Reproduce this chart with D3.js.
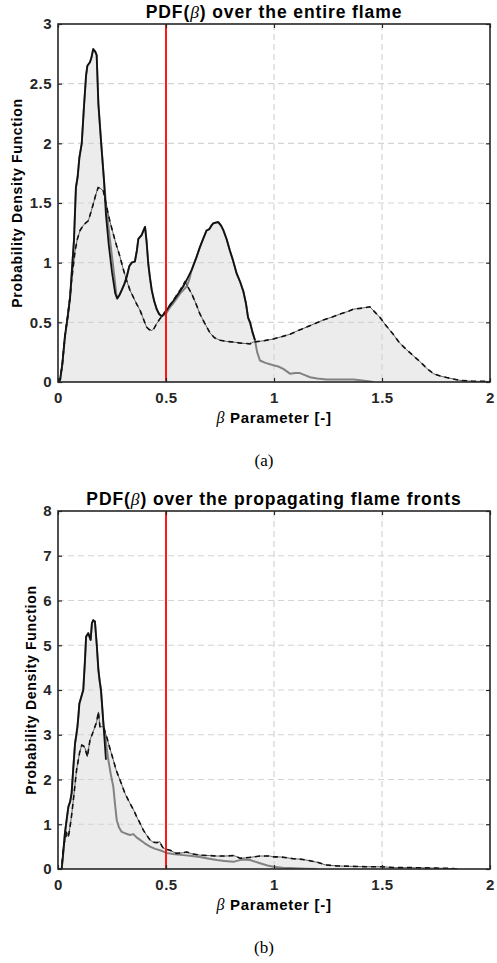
<!DOCTYPE html>
<html>
<head>
<meta charset="utf-8">
<script src="https://cdn.jsdelivr.net/npm/d3@7/dist/d3.min.js"></script>
<style>
  html, body { margin: 0; padding: 0; background: #fff; }
  svg { display: block; }
</style>
</head>
<body>
<div id="chart"></div>
<script>
// ---------------- DATA ----------------
const xTicks = [0, 0.5, 1, 1.5, 2];
const xTickLabels = ["0", "0.5", "1", "1.5", "2"];
const topYTicks = [0, 0.5, 1, 1.5, 2, 2.5, 3];
const topYTickLabels = ["0", "0.5", "1", "1.5", "2", "2.5", "3"];
const botYTicks = [0, 1, 2, 3, 4, 5, 6, 7, 8];
const botYTickLabels = ["0", "1", "2", "3", "4", "5", "6", "7", "8"];
const thresholdBeta = 0.5;

const titles = ["over the entire flame", "over the propagating flame fronts"];
const panelLabels = ["(a)", "(b)"];

// Panel (a): [beta, pdf]
const topSolid = [[0,0],[0.01,0.02],[0.02,0.15],[0.032,0.38],[0.045,0.55],[0.056,0.71],[0.065,0.95],[0.074,1.19],[0.083,1.63],[0.091,1.72],[0.099,1.88],[0.11,2.0],[0.12,2.3],[0.13,2.57],[0.136,2.65],[0.148,2.68],[0.155,2.72],[0.163,2.79],[0.172,2.77],[0.179,2.74],[0.187,2.33],[0.2,2.0],[0.213,1.69],[0.222,1.4],[0.235,1.15],[0.25,0.92],[0.265,0.74],[0.275,0.70],[0.285,0.73],[0.295,0.77],[0.307,0.82],[0.318,0.88],[0.33,0.97],[0.341,1.0],[0.356,1.01],[0.365,1.1],[0.372,1.2],[0.387,1.23],[0.396,1.27],[0.403,1.3],[0.41,1.18],[0.418,0.99],[0.426,0.87],[0.434,0.77],[0.445,0.68],[0.457,0.61],[0.468,0.57],[0.48,0.55],[0.49,0.57],[0.503,0.6],[0.52,0.65],[0.534,0.68],[0.55,0.72],[0.565,0.76],[0.58,0.8],[0.6,0.87],[0.619,0.94],[0.64,1.04],[0.657,1.13],[0.672,1.2],[0.688,1.27],[0.7,1.28],[0.71,1.31],[0.719,1.33],[0.73,1.335],[0.742,1.34],[0.755,1.31],[0.766,1.27],[0.78,1.2],[0.796,1.1],[0.81,1.02],[0.827,0.91],[0.843,0.84],[0.858,0.76],[0.87,0.66],[0.88,0.54],[0.889,0.5],[0.9,0.42],[0.912,0.35]];

const topGray = [[0,0],[0.01,0.02],[0.02,0.15],[0.032,0.38],[0.045,0.55],[0.056,0.71],[0.065,0.95],[0.074,1.19],[0.083,1.63],[0.091,1.72],[0.099,1.88],[0.11,2.0],[0.12,2.3],[0.13,2.57],[0.136,2.65],[0.148,2.68],[0.155,2.72],[0.163,2.79],[0.172,2.77],[0.179,2.74],[0.187,2.33],[0.2,2.0],[0.213,1.69],[0.222,1.5],[0.235,1.28],[0.25,1.05],[0.26,0.9],[0.272,0.70],[0.285,0.73],[0.295,0.77],[0.307,0.82],[0.318,0.88],[0.33,0.97],[0.341,1.0],[0.356,1.01],[0.365,1.1],[0.372,1.2],[0.387,1.23],[0.396,1.27],[0.403,1.3],[0.41,1.18],[0.418,0.99],[0.426,0.87],[0.434,0.77],[0.445,0.68],[0.457,0.61],[0.468,0.57],[0.48,0.55],[0.49,0.56],[0.503,0.58],[0.52,0.63],[0.534,0.66],[0.55,0.7],[0.565,0.74],[0.58,0.77],[0.596,0.8],[0.608,0.86],[0.619,0.94],[0.64,1.04],[0.657,1.13],[0.672,1.2],[0.688,1.27],[0.7,1.28],[0.71,1.31],[0.719,1.33],[0.73,1.335],[0.742,1.34],[0.755,1.31],[0.766,1.27],[0.78,1.2],[0.796,1.1],[0.81,1.02],[0.827,0.91],[0.843,0.84],[0.858,0.76],[0.87,0.66],[0.88,0.54],[0.889,0.5],[0.9,0.42],[0.912,0.35],[0.922,0.25],[0.935,0.18],[0.96,0.16],[0.997,0.14],[1.02,0.13],[1.043,0.11],[1.074,0.07],[1.1,0.075],[1.12,0.075],[1.14,0.06],[1.167,0.04],[1.2,0.03],[1.244,0.02],[1.3,0.02],[1.367,0.02],[1.4,0.015],[1.444,0.005],[1.46,0]];

const topDashed = [[0,0],[0.01,0.02],[0.02,0.15],[0.032,0.38],[0.045,0.55],[0.056,0.72],[0.063,0.85],[0.079,1.1],[0.09,1.2],[0.102,1.27],[0.12,1.32],[0.14,1.35],[0.152,1.42],[0.163,1.49],[0.175,1.57],[0.186,1.63],[0.198,1.62],[0.21,1.6],[0.225,1.47],[0.24,1.35],[0.256,1.24],[0.27,1.15],[0.287,1.05],[0.3,0.96],[0.318,0.85],[0.333,0.77],[0.349,0.71],[0.365,0.65],[0.38,0.6],[0.395,0.53],[0.41,0.46],[0.422,0.44],[0.434,0.43],[0.445,0.45],[0.457,0.49],[0.472,0.53],[0.488,0.57],[0.51,0.62],[0.534,0.68],[0.55,0.73],[0.565,0.77],[0.578,0.81],[0.588,0.84],[0.6,0.8],[0.619,0.74],[0.64,0.65],[0.657,0.57],[0.68,0.49],[0.704,0.41],[0.725,0.37],[0.75,0.35],[0.78,0.34],[0.81,0.335],[0.85,0.325],[0.889,0.32],[0.904,0.335],[0.95,0.345],[0.997,0.36],[1.035,0.38],[1.074,0.4],[1.11,0.43],[1.151,0.46],[1.19,0.49],[1.228,0.52],[1.27,0.545],[1.306,0.57],[1.34,0.59],[1.367,0.61],[1.41,0.62],[1.444,0.63],[1.465,0.59],[1.491,0.54],[1.52,0.47],[1.552,0.4],[1.58,0.33],[1.614,0.27],[1.645,0.22],[1.676,0.17],[1.71,0.11],[1.738,0.07],[1.77,0.05],[1.8,0.037],[1.86,0.014],[1.92,0.006],[2.0,0.005]];

// Panel (b): [beta, pdf]
const botSolid = [[0,0],[0.017,0],[0.025,0.4],[0.032,0.8],[0.04,1.1],[0.048,1.39],[0.056,1.5],[0.063,1.69],[0.07,2.2],[0.079,2.81],[0.085,3.0],[0.09,3.18],[0.095,3.45],[0.099,3.7],[0.108,3.85],[0.117,4.0],[0.125,4.67],[0.13,5.19],[0.14,5.27],[0.151,5.12],[0.157,5.49],[0.163,5.56],[0.171,5.53],[0.179,5.04],[0.187,4.45],[0.193,4.2],[0.199,4.0],[0.205,3.6],[0.21,3.26],[0.216,2.85],[0.222,2.44]];

const botGray = [[0,0],[0.017,0],[0.025,0.4],[0.032,0.8],[0.04,1.1],[0.048,1.39],[0.056,1.5],[0.063,1.69],[0.07,2.2],[0.079,2.81],[0.085,3.0],[0.09,3.18],[0.095,3.45],[0.099,3.7],[0.108,3.85],[0.117,4.0],[0.125,4.67],[0.13,5.19],[0.14,5.27],[0.151,5.12],[0.157,5.49],[0.163,5.56],[0.171,5.53],[0.179,5.04],[0.187,4.45],[0.193,4.2],[0.199,4.0],[0.205,3.6],[0.21,3.26],[0.22,2.9],[0.233,2.44],[0.245,2.1],[0.256,1.84],[0.265,1.4],[0.272,1.09],[0.283,0.92],[0.295,0.83],[0.31,0.8],[0.333,0.76],[0.349,0.78],[0.365,0.7],[0.38,0.65],[0.4,0.58],[0.426,0.5],[0.45,0.45],[0.472,0.42],[0.503,0.36],[0.54,0.33],[0.58,0.31],[0.62,0.29],[0.657,0.27],[0.7,0.23],[0.735,0.2],[0.77,0.18],[0.812,0.16],[0.85,0.21],[0.889,0.2],[0.935,0.13],[0.97,0.08],[0.997,0.05],[1.04,0.03],[1.074,0.02],[1.15,0.005],[1.2,0]];

const botDashed = [[0,0],[0.017,0],[0.025,0.5],[0.04,0.8],[0.048,0.72],[0.056,0.95],[0.063,1.2],[0.071,1.54],[0.086,2.21],[0.1,2.6],[0.11,2.77],[0.118,2.75],[0.125,2.7],[0.136,2.51],[0.148,2.88],[0.163,3.07],[0.179,3.29],[0.187,3.51],[0.194,3.18],[0.21,3.18],[0.225,2.96],[0.24,2.7],[0.256,2.44],[0.27,2.2],[0.287,1.99],[0.31,1.69],[0.333,1.47],[0.35,1.32],[0.364,1.17],[0.38,1.02],[0.395,0.87],[0.41,0.76],[0.426,0.65],[0.44,0.6],[0.457,0.59],[0.472,0.61],[0.48,0.52],[0.488,0.46],[0.503,0.44],[0.519,0.42],[0.535,0.38],[0.549,0.35],[0.575,0.36],[0.596,0.38],[0.62,0.34],[0.657,0.31],[0.7,0.3],[0.735,0.29],[0.775,0.29],[0.812,0.3],[0.825,0.28],[0.843,0.24],[0.87,0.25],[0.889,0.26],[0.935,0.29],[0.98,0.29],[1.0,0.27],[1.03,0.27],[1.06,0.25],[1.09,0.23],[1.12,0.22],[1.15,0.2],[1.2,0.15],[1.24,0.09],[1.29,0.07],[1.35,0.06],[1.43,0.05],[1.5,0.05],[1.56,0.03],[1.65,0.03],[1.75,0.02],[1.83,0.01],[1.85,0]];

// ---------------- DRAW ----------------
const W = 497, H = 963;
const svg = d3.select("#chart").append("svg")
  .attr("width", W).attr("height", H)
  .attr("viewBox", `0 0 ${W} ${H}`);
svg.append("rect").attr("width", W).attr("height", H).attr("fill", "#fff");

const AX = "#262626";
const FONT = "'Liberation Sans', Arial, Helvetica, sans-serif";
const SERIF = "'Liberation Serif', 'Times New Roman', serif";

const panels = [
  { top: 24, bottom: 382, yMax: 3, yTicks: topYTicks, yLabels: topYTickLabels,
    solid: topSolid, gray: topGray, dashed: topDashed, title: titles[0],
    label: panelLabels[0], ylabX: 22, tag: 466 },
  { top: 511, bottom: 869, yMax: 8, yTicks: botYTicks, yLabels: botYTickLabels,
    solid: botSolid, gray: botGray, dashed: botDashed, title: titles[1],
    label: panelLabels[1], ylabX: 35.5, tag: 953 }
];

panels.forEach((p, i) => {
  const left = 58, right = 490;
  const x = d3.scaleLinear().domain([0, 2]).range([left, right]);
  const y = d3.scaleLinear().domain([0, p.yMax]).range([p.bottom, p.top]);
  const g = svg.append("g");

  const clipId = "clip" + i;
  svg.append("clipPath").attr("id", clipId).append("rect")
    .attr("x", left).attr("y", p.top).attr("width", right - left).attr("height", p.bottom - p.top);

  const plot = g.append("g").attr("clip-path", `url(#${clipId})`);

  // areas (union of fills)
  const area = d3.area().x(d => x(d[0])).y0(y(0)).y1(d => y(d[1]));
  [p.gray, p.solid, p.dashed].forEach(s => {
    plot.append("path").datum(s).attr("d", area).attr("fill", "#ececec").attr("stroke", "none");
  });

  // grid
  xTicks.filter(v => v > 0 && v < 2).forEach(v => {
    plot.append("line").attr("x1", x(v)).attr("x2", x(v)).attr("y1", p.top).attr("y2", p.bottom)
      .attr("stroke", "#d4d4d4").attr("stroke-width", 1.2).attr("stroke-dasharray", "6,4");
  });
  p.yTicks.filter(v => v > 0 && v < p.yMax).forEach(v => {
    plot.append("line").attr("x1", left).attr("x2", right).attr("y1", y(v)).attr("y2", y(v))
      .attr("stroke", "#d4d4d4").attr("stroke-width", 1.2).attr("stroke-dasharray", "6,4");
  });

  const line = d3.line().x(d => x(d[0])).y(d => y(d[1]));
  plot.append("path").datum(p.gray).attr("d", line).attr("fill", "none")
    .attr("stroke", "#828282").attr("stroke-width", 2).attr("stroke-linejoin", "round");
  plot.append("path").datum(p.solid).attr("d", line).attr("fill", "none")
    .attr("stroke", "#111").attr("stroke-width", 1.8).attr("stroke-linejoin", "round");
  plot.append("path").datum(p.dashed).attr("d", line).attr("fill", "none")
    .attr("stroke", "#222").attr("stroke-width", 0.7);
  plot.append("path").datum(p.dashed).attr("d", line).attr("fill", "none")
    .attr("stroke", "#111").attr("stroke-width", 1.6).attr("stroke-dasharray", "5,4");

  // threshold line
  plot.append("line").attr("x1", x(thresholdBeta)).attr("x2", x(thresholdBeta))
    .attr("y1", p.top).attr("y2", p.bottom).attr("stroke", "#ff0000").attr("stroke-width", 1.8);

  // axes
  const xb = d3.axisBottom(x).tickValues(xTicks).tickFormat((d, k) => xTickLabels[k])
    .tickSizeInner(-4).tickSizeOuter(0).tickPadding(10);
  const xt = d3.axisTop(x).tickValues(xTicks).tickFormat("").tickSizeInner(-4).tickSizeOuter(0);
  const yl = d3.axisLeft(y).tickValues(p.yTicks).tickFormat((d, k) => p.yLabels[k])
    .tickSizeInner(-4).tickSizeOuter(0).tickPadding(6);
  const yr = d3.axisRight(y).tickValues(p.yTicks).tickFormat("").tickSizeInner(-4).tickSizeOuter(0);

  const styleAxis = sel => {
    sel.select(".domain").remove();
    sel.selectAll("line").attr("stroke", AX).attr("stroke-width", 1.2);
    sel.selectAll("text").attr("fill", AX).attr("font-family", FONT)
      .attr("font-weight", "bold").attr("font-size", "15px").attr("letter-spacing", "0.5px");
  };
  g.append("g").attr("transform", `translate(0,${p.bottom})`).call(xb).call(styleAxis);
  g.append("g").attr("transform", `translate(0,${p.top})`).call(xt).call(styleAxis);
  g.append("g").attr("transform", `translate(${left},0)`).call(yl).call(styleAxis);
  g.append("g").attr("transform", `translate(${right},0)`).call(yr).call(styleAxis);

  g.append("rect").attr("x", left).attr("y", p.top).attr("width", right - left)
    .attr("height", p.bottom - p.top).attr("fill", "none").attr("stroke", AX).attr("stroke-width", 1.6);

  // title
  const t = g.append("text").attr("x", (left + right) / 2).attr("y", p.top - 6)
    .attr("text-anchor", "middle").attr("font-family", FONT).attr("font-weight", "bold")
    .attr("font-size", "17.5px").attr("letter-spacing", "0.9px").attr("fill", "#000");
  t.append("tspan").text("PDF(");
  t.append("tspan").attr("font-family", SERIF)
    .attr("font-style", "italic").attr("font-weight", "normal").text("β");
  t.append("tspan").text(") " + p.title);

  // x label
  const xl = g.append("text").attr("x", (left + right) / 2).attr("y", p.bottom + 41)
    .attr("text-anchor", "middle").attr("font-family", FONT).attr("font-weight", "bold")
    .attr("font-size", "15px").attr("letter-spacing", "0.7px").attr("fill", "#000");
  xl.append("tspan").attr("font-family", SERIF)
    .attr("font-style", "italic").attr("font-weight", "normal").attr("font-size", "16px").text("β");
  xl.append("tspan").text(" Parameter [-]");

  // y label
  g.append("text").attr("transform", `translate(${p.ylabX},${(p.top + p.bottom) / 2}) rotate(-90)`)
    .attr("text-anchor", "middle").attr("font-family", FONT).attr("font-weight", "bold")
    .attr("font-size", "14px").attr("letter-spacing", "0.7px").attr("fill", "#000")
    .text("Probability Density Function");

  // panel tag
  g.append("text").attr("x", 264).attr("y", p.tag).attr("text-anchor", "middle")
    .attr("font-family", SERIF)
    .attr("font-size", "17px").attr("fill", "#000").text(p.label);
});
</script>
</body>
</html>
